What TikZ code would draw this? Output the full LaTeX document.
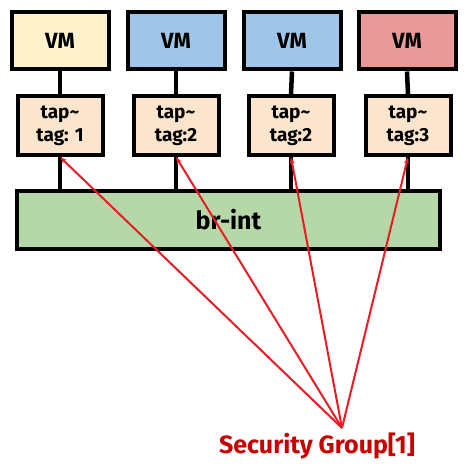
\documentclass[tikz,border=0pt]{standalone}
\usepackage{fontspec}
\setmainfont{Fira Sans}
\usepackage{tikz}
\usetikzlibrary{arrows.meta, positioning}
\definecolor{vmyellow}{RGB}{255, 242, 204}
\definecolor{vmblue}{RGB}{159, 197, 232}
\definecolor{vmred}{RGB}{234, 153, 153}
\definecolor{tapcolor}{RGB}{252, 229, 205}
\definecolor{bridgecolor}{RGB}{182, 215, 168}
\definecolor{sgline}{RGB}{232, 28, 36}
\definecolor{sgtext}{RGB}{200, 0, 0}

\begin{document}
\begin{tikzpicture}[x=1pt, y=-1pt,
    vmbox/.style={draw, line width=4pt, minimum width=97pt, minimum height=57pt, font=\fontsize{22}{24}\selectfont\bfseries},
    tapbox/.style={draw, line width=4pt, fill=tapcolor, minimum width=85pt, minimum height=59pt, align=center, font=\fontsize{19}{23}\selectfont\bfseries},
    link/.style={line width=4.5pt},
    sgarrow/.style={-{Stealth[length=7pt, width=5pt]}, line width=2pt, sgline}]
    \useasboundingbox (0, 0) rectangle (472, 470);

    % VMs
    \node[vmbox, fill=vmyellow] (vm1) at (60, 41) {VM};
    \node[vmbox, fill=vmblue] (vm2) at (176, 41) {VM};
    \node[vmbox, fill=vmblue] (vm3) at (292, 41) {VM};
    \node[vmbox, fill=vmred] (vm4) at (407, 41) {VM};

    % Tap interfaces
    \node[tapbox] (tap1) at (60, 125.5) {tap\textasciitilde\\tag: 1};
    \node[tapbox] (tap2) at (176, 125.5) {tap\textasciitilde\\tag:2};
    \node[tapbox] (tap3) at (291, 125.5) {tap\textasciitilde\\tag:2};
    \node[tapbox] (tap4) at (408, 125.5) {tap\textasciitilde\\tag:3};

    % Integration bridge
    \node[draw, line width=4pt, fill=bridgecolor, minimum width=423pt, minimum height=58pt, font=\fontsize{25}{27}\selectfont\bfseries] (brint) at (228.5, 220) {br-int};

    % Links
    \foreach \i in {1,...,4} {
        \draw[link] (vm\i.south) -- (tap\i.north);
        \draw[link] (tap\i.south) -- (tap\i.south |- brint.north);
    }

    % Security group
    \coordinate (sg) at (342, 428);
    \node[font=\fontsize{25}{27}\selectfont\bfseries, text=sgtext] (sglabel) at (317, 446) {Security Group[1]};
    \foreach \i in {1,...,4} {
        \draw[sgarrow] (sg) -- (tap\i.south);
    }
\end{tikzpicture}
\end{document}
